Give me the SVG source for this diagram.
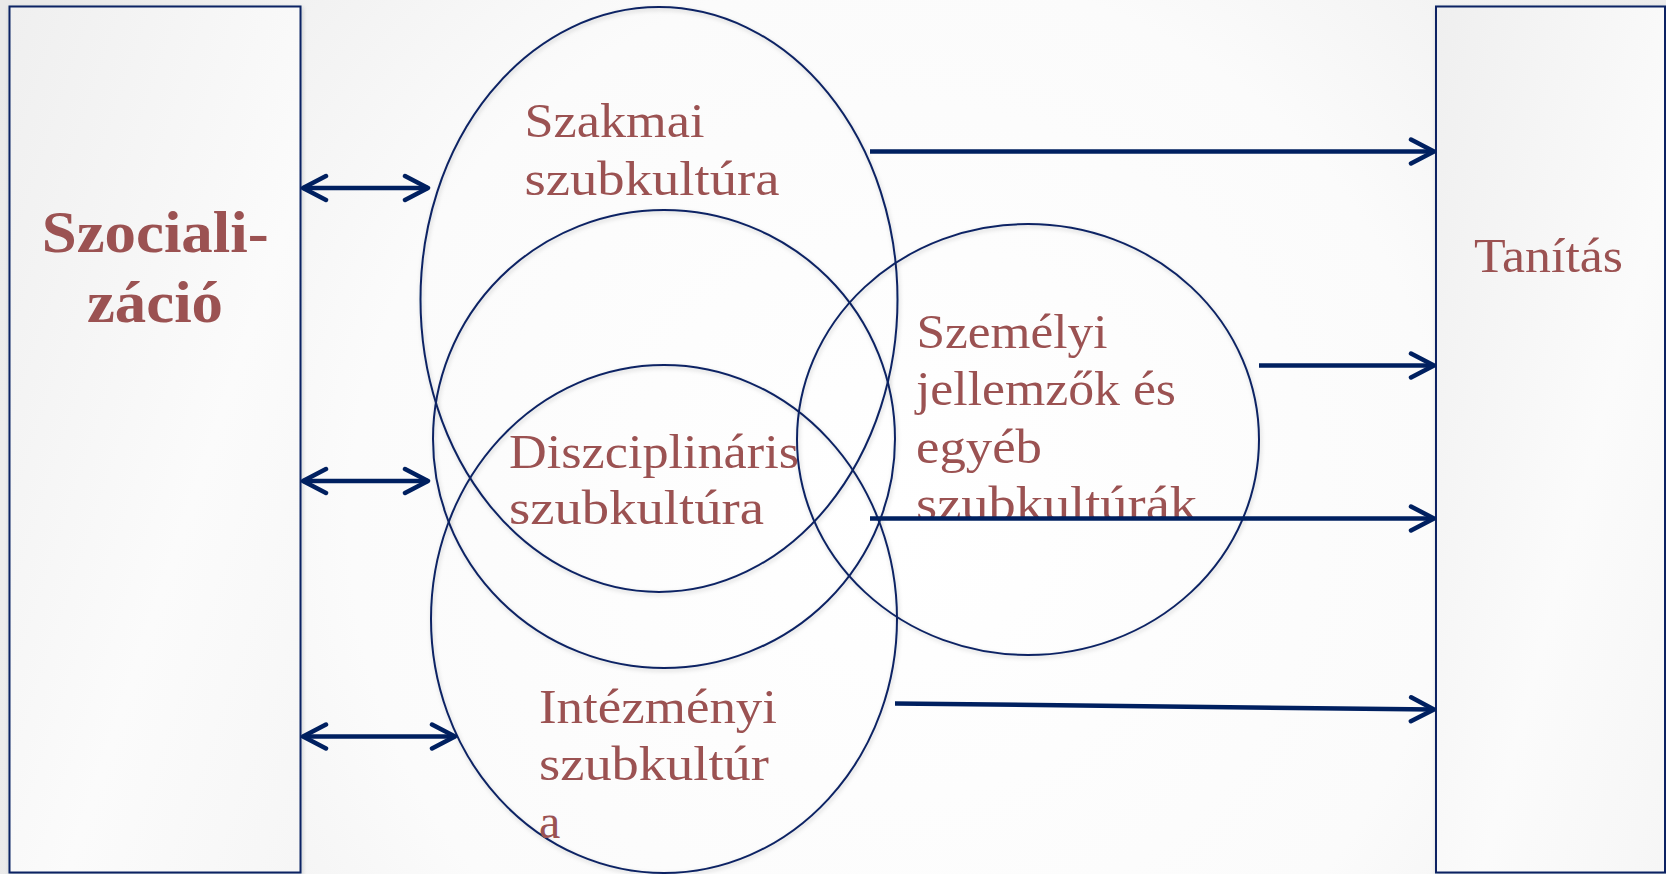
<svg xmlns="http://www.w3.org/2000/svg" width="1666" height="874" viewBox="0 0 1666 874">
<defs>
<radialGradient id="bg" cx="900" cy="520" r="1000" gradientUnits="userSpaceOnUse">
<stop offset="0" stop-color="#ffffff"/>
<stop offset="0.55" stop-color="#fbfbfb"/>
<stop offset="1" stop-color="#e9e9e9"/>
</radialGradient>
<linearGradient id="boxfill" x1="0" y1="0" x2="1" y2="1">
<stop offset="0" stop-color="#efefef"/>
<stop offset="0.6" stop-color="#fbfbfb"/>
<stop offset="1" stop-color="#f6f6f6"/>
</linearGradient>
<filter id="sh" x="-5%" y="-5%" width="110%" height="110%">
<feDropShadow dx="1" dy="2" stdDeviation="2" flood-color="#000" flood-opacity="0.18"/>
</filter>
<marker id="ah" viewBox="0 0 30 30" refX="26" refY="15" markerWidth="30" markerHeight="30" markerUnits="userSpaceOnUse" orient="auto-start-reverse">
<path d="M3,3 L26,15 L3,27" fill="none" stroke="#002060" stroke-width="4.5" stroke-linecap="round" stroke-linejoin="round"/>
</marker>
<style>
.box{fill:url(#boxfill);stroke:#0b2464;stroke-width:2;}
.ell{fill:none;stroke:#0b2464;stroke-width:2;}
.lbl{font-family:"Liberation Serif","Times New Roman",serif;font-size:48px;fill:#9b5252;}
.big{font-family:"Liberation Serif","Times New Roman",serif;font-size:60px;font-weight:bold;fill:#9b5252;}
.con{fill:none;stroke:#002060;stroke-width:4.5;}
</style>
</defs>
<rect x="0" y="0" width="1666" height="874" fill="url(#bg)"/>

<g id="szocializacio">
<rect class="box" x="9.5" y="6.5" width="291" height="866" filter="url(#sh)"/>
<text class="big" x="41.7" y="251.7" textLength="227" lengthAdjust="spacingAndGlyphs">Szociali-</text>
<text class="big" x="87" y="321.7" textLength="136" lengthAdjust="spacingAndGlyphs">záció</text>
</g>

<g id="tanitas">
<rect class="box" x="1436" y="6.5" width="229" height="866" filter="url(#sh)"/>
<text class="lbl" x="1474" y="272" textLength="149" lengthAdjust="spacingAndGlyphs">Tanítás</text>
</g>

<g id="szakmai">
<ellipse class="ell" cx="659" cy="299.5" rx="238.5" ry="292.5" filter="url(#sh)"/>
<text class="lbl" x="524.5" y="137" textLength="180" lengthAdjust="spacingAndGlyphs">Szakmai</text>
<text class="lbl" x="524.5" y="195" textLength="255" lengthAdjust="spacingAndGlyphs">szubkultúra</text>
</g>

<g id="diszciplinaris">
<ellipse class="ell" cx="664" cy="439" rx="231" ry="229" filter="url(#sh)"/>
<text class="lbl" x="509" y="468" textLength="290" lengthAdjust="spacingAndGlyphs">Diszciplináris</text>
<text class="lbl" x="509" y="524" textLength="255" lengthAdjust="spacingAndGlyphs">szubkultúra</text>
</g>

<g id="intezmenyi">
<ellipse class="ell" cx="664" cy="619" rx="233" ry="254" filter="url(#sh)"/>
<text class="lbl" x="539" y="723" textLength="238" lengthAdjust="spacingAndGlyphs">Intézményi</text>
<text class="lbl" x="539" y="780" textLength="230" lengthAdjust="spacingAndGlyphs">szubkultúr</text>
<text class="lbl" x="539" y="838">a</text>
</g>

<g id="szemelyi">
<ellipse class="ell" cx="1028" cy="439.5" rx="231" ry="215.5" filter="url(#sh)"/>
<text class="lbl" x="916.5" y="348" textLength="191" lengthAdjust="spacingAndGlyphs">Személyi</text>
<text class="lbl" x="916" y="405" textLength="260" lengthAdjust="spacingAndGlyphs">jellemzők és</text>
<text class="lbl" x="916" y="463" textLength="126" lengthAdjust="spacingAndGlyphs">egyéb</text>
<text class="lbl" x="916" y="520" textLength="281" lengthAdjust="spacingAndGlyphs">szubkultúrák</text>
</g>

<g id="connectors">
<line class="con" x1="303" y1="188" x2="428" y2="188" marker-start="url(#ah)" marker-end="url(#ah)"/>
<line class="con" x1="303" y1="481" x2="428" y2="481" marker-start="url(#ah)" marker-end="url(#ah)"/>
<line class="con" x1="303" y1="736.5" x2="455" y2="736.5" marker-start="url(#ah)" marker-end="url(#ah)"/>
<line class="con" x1="870" y1="151.5" x2="1434" y2="151.5" marker-end="url(#ah)"/>
<line class="con" x1="1259" y1="365.5" x2="1434" y2="365.5" marker-end="url(#ah)"/>
<line class="con" x1="870" y1="518.5" x2="1434" y2="518.5" marker-end="url(#ah)"/>
<line class="con" x1="895" y1="703.5" x2="1434" y2="709.5" marker-end="url(#ah)"/>
</g>
</svg>
